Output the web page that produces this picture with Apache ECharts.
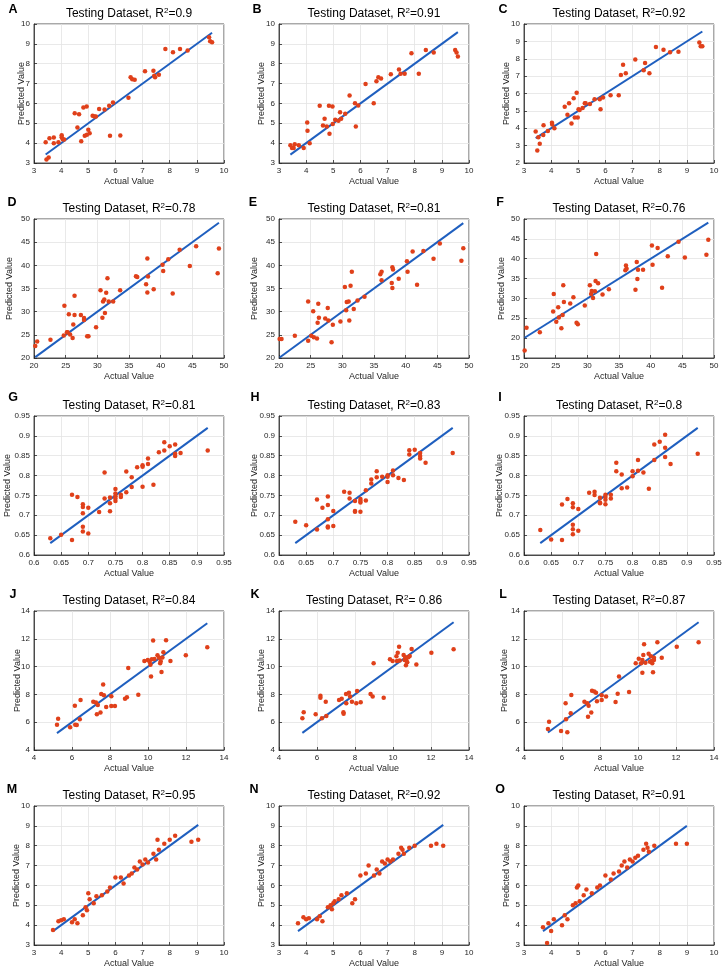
<!DOCTYPE html>
<html><head><meta charset="utf-8">
<script src="https://cdn.jsdelivr.net/npm/echarts@6/dist/echarts.min.js"></script>
<style>html,body{margin:0;padding:0;background:#fff}#c{width:725px;height:972px}</style>
</head><body><div id="c"></div>
<script>
// ---------- DATA ----------
const letters = ['A','B','C','D','E','F','G','H','I','J','K','L','M','N','O'];
const r2Values = ['0.9','0.91','0.92','0.78','0.81','0.76','0.81','0.83','0.8','0.84',' 0.86','0.87','0.95','0.92','0.91'];

const pointsA = [[3.43,4.04],[3.46,3.17],[3.54,3.28],[3.57,4.25],[3.73,4.29],[3.73,4.0],[3.9,4.04],[4.02,4.4],[4.02,4.3],[4.06,4.2],[4.11,4.18],[4.5,5.51],[4.6,4.79],[4.66,5.46],[4.74,4.09],[4.82,5.8],[4.87,4.37],[4.94,5.85],[4.95,4.42],[5.0,4.67],[5.05,4.5],[5.16,5.38],[5.23,5.34],[5.28,5.34],[5.4,5.72],[5.6,5.7],[5.77,5.88],[5.8,4.37],[5.91,6.05],[6.18,4.39],[6.48,6.28],[6.56,7.32],[6.62,7.22],[6.71,7.19],[7.09,7.62],[7.4,7.64],[7.43,7.39],[7.46,7.32],[7.6,7.44],[7.84,8.74],[8.12,8.58],[8.38,8.74],[8.66,8.66],[9.45,9.33],[9.49,9.13],[9.56,9.08]];
const pointsB = [[3.42,3.89],[3.48,3.75],[3.54,3.75],[3.58,3.95],[3.73,3.89],[3.91,3.75],[4.04,5.04],[4.05,4.62],[4.13,4.0],[4.5,5.88],[4.62,4.89],[4.68,5.23],[4.76,4.84],[4.84,5.88],[4.86,4.47],[4.97,5.85],[4.98,4.97],[5.07,5.18],[5.19,5.13],[5.25,5.56],[5.29,5.23],[5.44,5.48],[5.6,6.4],[5.8,6.01],[5.83,4.84],[5.92,5.9],[6.19,6.98],[6.49,6.01],[6.59,7.12],[6.66,7.32],[6.76,7.25],[7.12,7.47],[7.42,7.71],[7.48,7.5],[7.63,7.5],[7.88,8.53],[8.15,7.49],[8.41,8.69],[8.7,8.56],[9.49,8.69],[9.54,8.56],[9.59,8.36]];
const pointsC = [[3.43,3.81],[3.49,2.72],[3.53,3.48],[3.58,3.11],[3.71,3.61],[3.72,4.17],[3.88,3.84],[4.03,4.31],[4.04,4.21],[4.12,4.0],[4.5,5.24],[4.6,4.78],[4.66,5.44],[4.75,4.27],[4.83,5.73],[4.87,4.62],[4.94,6.04],[4.98,4.62],[5.01,5.09],[5.05,5.05],[5.16,5.17],[5.24,5.44],[5.27,5.44],[5.43,5.4],[5.6,5.67],[5.79,5.67],[5.82,5.09],[5.91,5.77],[6.19,5.9],[6.49,5.9],[6.57,7.07],[6.65,7.65],[6.75,7.17],[7.1,7.96],[7.41,7.34],[7.46,7.75],[7.62,7.17],[7.86,8.68],[8.14,8.52],[8.38,8.37],[8.69,8.41],[9.46,8.93],[9.51,8.72],[9.57,8.72]];
const pointsD = [[20.2,22.57],[20.5,23.57],[22.6,23.93],[24.7,24.86],[24.8,31.29],[25.2,25.57],[25.3,25.57],[25.5,29.43],[25.7,25.07],[26.1,24.29],[26.2,27.21],[26.4,33.43],[26.4,29.29],[27.4,29.29],[27.9,28.64],[27.9,28.21],[28.4,24.71],[28.6,24.71],[29.8,26.64],[30.5,34.64],[30.8,28.71],[30.9,32.21],[31.1,32.64],[31.2,29.71],[31.4,34.07],[31.6,37.21],[31.8,32.21],[32.5,32.21],[33.6,34.64],[36.1,37.64],[36.3,37.5],[37.7,35.93],[37.9,41.5],[37.9,34.14],[38.0,37.57],[38.9,34.86],[40.3,40.14],[40.4,38.79],[41.2,41.29],[41.9,33.93],[43.0,43.36],[44.6,39.86],[45.6,44.14],[49.0,38.29],[49.2,43.64]];
const pointsE = [[20.1,24.1],[20.4,24.1],[22.5,24.8],[24.6,23.7],[24.6,32.2],[25.1,24.8],[25.4,30.1],[25.5,24.5],[26.0,24.2],[26.1,27.6],[26.2,31.7],[26.3,28.7],[27.3,28.5],[27.7,30.8],[27.8,28.1],[28.3,23.4],[28.5,27.2],[29.7,27.9],[30.4,35.3],[30.6,30.3],[30.7,32.1],[31.0,32.2],[31.1,28.1],[31.3,35.6],[31.5,38.6],[31.8,30.6],[32.4,32.4],[33.5,33.2],[36.0,38.1],[36.2,38.6],[36.2,36.8],[37.8,36.2],[37.9,39.6],[37.9,35.1],[38.0,39.1],[38.9,37.1],[40.2,40.9],[40.3,38.6],[41.1,43.0],[41.8,35.8],[42.8,43.1],[44.4,41.4],[45.4,44.7],[48.8,41.0],[49.1,43.7]];
const pointsF = [[20.1,16.9],[20.4,22.6],[22.5,21.5],[24.6,26.7],[24.7,31.1],[25.1,24.1],[25.4,27.8],[25.5,25.2],[25.9,22.5],[26.1,25.8],[26.2,33.3],[26.3,29.1],[27.3,28.7],[27.8,30.3],[28.3,23.9],[28.5,23.5],[29.6,28.2],[30.4,33.3],[30.6,31.1],[30.7,31.9],[30.9,30.1],[31.2,31.8],[31.3,34.4],[31.4,41.2],[31.7,33.8],[32.4,31.0],[33.4,32.3],[36.0,37.1],[36.1,38.3],[36.2,37.5],[37.6,32.2],[37.8,39.2],[37.9,34.9],[38.0,37.2],[38.8,37.2],[40.2,43.3],[40.3,38.5],[41.1,42.7],[41.8,32.7],[42.7,40.6],[44.4,44.3],[45.4,40.3],[48.8,41.0],[49.1,44.8]];
const pointsG = [[0.63,0.642],[0.65,0.651],[0.67,0.752],[0.67,0.638],[0.68,0.746],[0.69,0.728],[0.69,0.721],[0.69,0.705],[0.69,0.671],[0.69,0.659],[0.70,0.719],[0.70,0.654],[0.72,0.708],[0.73,0.808],[0.73,0.742],[0.74,0.745],[0.74,0.730],[0.74,0.710],[0.75,0.766],[0.75,0.755],[0.75,0.748],[0.75,0.742],[0.75,0.736],[0.76,0.752],[0.76,0.746],[0.77,0.810],[0.77,0.758],[0.78,0.796],[0.78,0.771],[0.79,0.821],[0.80,0.826],[0.80,0.822],[0.80,0.772],[0.81,0.843],[0.81,0.829],[0.82,0.777],[0.83,0.859],[0.84,0.884],[0.84,0.863],[0.85,0.874],[0.86,0.878],[0.86,0.855],[0.86,0.849],[0.87,0.857],[0.92,0.863]];
const pointsH = [[0.63,0.684],[0.65,0.675],[0.67,0.740],[0.67,0.664],[0.68,0.719],[0.69,0.747],[0.69,0.726],[0.69,0.690],[0.69,0.672],[0.69,0.669],[0.70,0.711],[0.70,0.673],[0.72,0.759],[0.73,0.757],[0.73,0.742],[0.74,0.736],[0.74,0.711],[0.74,0.709],[0.75,0.741],[0.75,0.736],[0.75,0.732],[0.75,0.709],[0.76,0.763],[0.76,0.737],[0.77,0.790],[0.77,0.780],[0.78,0.811],[0.78,0.796],[0.79,0.797],[0.80,0.801],[0.80,0.797],[0.80,0.784],[0.81,0.813],[0.81,0.801],[0.82,0.794],[0.83,0.789],[0.84,0.864],[0.84,0.853],[0.85,0.865],[0.86,0.857],[0.86,0.849],[0.86,0.843],[0.87,0.832],[0.92,0.857]];
const pointsI = [[0.63,0.663],[0.65,0.639],[0.67,0.727],[0.67,0.638],[0.68,0.741],[0.69,0.730],[0.69,0.720],[0.69,0.676],[0.69,0.665],[0.69,0.652],[0.70,0.716],[0.70,0.661],[0.72,0.757],[0.73,0.759],[0.73,0.751],[0.74,0.744],[0.74,0.732],[0.74,0.730],[0.75,0.752],[0.75,0.746],[0.75,0.739],[0.75,0.728],[0.76,0.752],[0.76,0.742],[0.77,0.832],[0.77,0.811],[0.78,0.803],[0.78,0.768],[0.79,0.770],[0.80,0.811],[0.80,0.798],[0.81,0.839],[0.81,0.812],[0.82,0.808],[0.83,0.767],[0.84,0.878],[0.84,0.839],[0.85,0.885],[0.86,0.903],[0.86,0.870],[0.86,0.847],[0.87,0.829],[0.92,0.855]];
const pointsJ = [[5.21,5.82],[5.27,6.25],[5.9,5.63],[6.15,7.19],[6.17,5.82],[6.25,5.8],[6.41,6.21],[6.45,7.6],[7.12,7.48],[7.26,7.41],[7.31,6.57],[7.36,7.24],[7.5,6.69],[7.54,8.03],[7.64,8.72],[7.68,7.93],[7.8,7.09],[8.07,7.86],[8.07,7.17],[8.26,7.17],[8.79,7.69],[8.89,7.79],[8.96,9.9],[9.49,7.98],[9.81,10.4],[9.99,10.47],[10.09,10.33],[10.13,10.14],[10.16,9.28],[10.2,10.52],[10.27,11.87],[10.34,10.55],[10.5,10.81],[10.58,10.64],[10.64,10.24],[10.67,10.38],[10.71,9.61],[10.76,10.66],[10.81,11.03],[10.95,11.89],[11.18,10.4],[11.99,10.81],[13.12,11.39]];
const pointsK = [[5.23,6.28],[5.3,6.71],[5.93,6.57],[6.18,7.91],[6.18,7.76],[6.26,6.28],[6.46,7.48],[6.49,6.45],[7.16,7.6],[7.3,7.69],[7.39,6.71],[7.4,6.61],[7.53,8.03],[7.54,7.36],[7.68,8.12],[7.74,7.84],[7.84,7.48],[8.07,7.36],[8.11,8.24],[8.3,7.43],[8.82,8.03],[8.93,7.84],[8.98,10.24],[9.51,7.76],[9.84,10.52],[9.98,10.4],[10.18,10.74],[10.21,10.4],[10.25,11.0],[10.32,11.43],[10.35,10.43],[10.56,10.83],[10.61,10.47],[10.65,10.67],[10.68,10.09],[10.7,10.43],[10.75,10.31],[10.81,10.67],[10.88,10.76],[10.98,11.27],[11.23,10.16],[12.02,11.0],[13.19,11.24]];
const pointsL = [[5.26,5.51],[5.32,6.04],[5.95,5.37],[6.19,7.36],[6.21,6.21],[6.28,5.27],[6.46,6.64],[6.49,7.96],[7.18,7.48],[7.33,7.36],[7.37,6.4],[7.4,7.19],[7.54,6.69],[7.58,8.27],[7.7,8.2],[7.79,8.12],[7.84,7.5],[8.09,7.93],[8.09,7.6],[8.32,7.84],[8.82,7.45],[8.93,8.05],[9.0,9.28],[9.53,8.17],[9.88,10.24],[10.04,10.57],[10.16,10.24],[10.23,10.47],[10.23,9.56],[10.28,10.83],[10.32,11.6],[10.39,10.28],[10.56,10.93],[10.63,10.35],[10.68,10.74],[10.72,10.4],[10.75,10.24],[10.79,9.59],[10.84,10.64],[10.84,10.47],[11.02,11.75],[11.25,10.64],[12.04,11.43],[13.19,11.75]];
const pointsM = [[3.7,3.75],[3.9,4.2],[4.0,4.25],[4.1,4.3],[4.4,4.15],[4.5,4.3],[4.6,4.1],[4.8,4.5],[4.9,4.9],[4.95,4.75],[5.0,5.6],[5.05,5.3],[5.2,5.1],[5.3,5.45],[5.5,5.5],[5.7,5.7],[5.8,5.9],[6.0,6.4],[6.2,6.4],[6.3,6.1],[6.5,6.5],[6.6,6.6],[6.7,6.9],[6.8,6.8],[6.9,7.2],[7.0,7.05],[7.1,7.3],[7.2,7.15],[7.4,7.6],[7.5,7.3],[7.55,8.3],[7.6,7.8],[7.8,8.1],[8.0,8.3],[8.2,8.5],[8.8,8.2],[9.05,8.3]];
const pointsN = [[3.7,4.1],[3.9,4.4],[4.0,4.3],[4.1,4.35],[4.4,4.3],[4.5,4.45],[4.6,4.2],[4.8,4.9],[4.9,5.0],[4.95,4.8],[5.0,5.1],[5.05,5.2],[5.2,5.3],[5.3,5.5],[5.5,5.6],[5.7,5.1],[5.8,5.3],[6.0,6.5],[6.2,6.6],[6.3,7.0],[6.5,6.5],[6.6,6.8],[6.7,6.6],[6.8,7.2],[6.9,7.1],[7.0,7.3],[7.1,7.2],[7.2,7.3],[7.4,7.6],[7.5,7.9],[7.55,7.8],[7.6,7.6],[7.8,7.9],[8.0,8.0],[8.6,8.0],[8.8,8.1],[9.05,8.0]];
const pointsO = [[3.7,3.9],[3.85,3.1],[3.9,4.1],[4.0,3.7],[4.1,4.3],[4.4,4.0],[4.5,4.5],[4.6,4.3],[4.8,5.0],[4.9,5.1],[4.95,5.9],[5.0,6.0],[5.05,5.2],[5.2,5.5],[5.3,5.8],[5.5,5.6],[5.7,5.9],[5.8,6.0],[6.0,6.5],[6.2,6.3],[6.3,6.6],[6.5,6.7],[6.6,7.0],[6.7,7.2],[6.8,6.9],[6.9,7.3],[7.0,7.2],[7.1,7.4],[7.2,7.5],[7.4,7.8],[7.5,8.1],[7.55,7.9],[7.6,7.7],[7.8,8.0],[8.6,8.1],[9.0,8.1]];

// axis ranges per panel: [min, max, interval]
const xAxisRanges = [[3,10,1],[3,10,1],[3,10,1],[20,50,5],[20,50,5],[20,50,5],[0.6,0.95,0.05],[0.6,0.95,0.05],[0.6,0.95,0.05],[4,14,2],[4,14,2],[4,14,2],[3,10,1],[3,10,1],[3,10,1]];
const yAxisRanges = [[3,10,1],[3,10,1],[2,10,1],[20,50,5],[20,50,5],[15,50,5],[0.6,0.95,0.05],[0.6,0.95,0.05],[0.6,0.95,0.05],[4,14,2],[4,14,2],[4,14,2],[3,10,1],[3,10,1],[3,10,1]];

const allPoints = [pointsA,pointsB,pointsC,pointsD,pointsE,pointsF,pointsG,pointsH,pointsI,pointsJ,pointsK,pointsL,pointsM,pointsN,pointsO];

// ---------- LAYOUT ----------
const colLeft = [34, 279, 524];
const rowTop = [24, 219, 416, 611, 806];
const plotW = 190, plotH = 139;
const yNameX = [22,262,507, 10,255,502, 8,255,500, 18,262,505, 17,262,507];
const letterPos = [[13,10],[257,10],[503,10],[12,203],[253,203],[500,203],[13,398],[255,398],[500,398],[13,595],[255,595],[503,595],[12,790],[254,790],[500,790]];

const FONT = 'Liberation Sans, Arial, sans-serif';
const chart = echarts.init(document.getElementById('c'), null, {renderer:'canvas'});

const grids=[], xAxes=[], yAxes=[], series=[], graphics=[];
function fmt(v){ return String(+(+v).toFixed(2)); }

allPoints.forEach((pts, i) => {
  const r = Math.floor(i/3), c = i%3;
  const left = colLeft[c], top = rowTop[r];
  grids.push({left, top, width: plotW, height: plotH, show: true, borderColor: '#262626', borderWidth: 0.8, backgroundColor: '#fff'});
  const xr = xAxisRanges[i], yr = yAxisRanges[i];
  const axisCommon = {
    axisLine: {show: true, onZero: false, lineStyle: {color: '#262626', width: 0.8}},
    axisTick: {show: true, inside: true, length: 3, lineStyle: {color: '#262626', width: 0.8}},
    splitLine: {show: true, lineStyle: {color: '#e3e3e3', width: 0.8}},
    axisLabel: {color: '#262626', fontSize: 8, fontFamily: FONT, formatter: fmt, margin: 4, showMinLabel: true, showMaxLabel: true}
  };
  xAxes.push(Object.assign({type: 'value', gridIndex: i, min: xr[0], max: xr[1], interval: xr[2]}, axisCommon));
  yAxes.push(Object.assign({type: 'value', gridIndex: i, min: yr[0], max: yr[1], interval: yr[2]}, axisCommon));

  const xs = pts.map(p => p[0]);
  const mn = Math.min(...xs), mx = Math.max(...xs);
  series.push({type: 'line', xAxisIndex: i, yAxisIndex: i, data: [[mn, mn],[mx, mx]], symbol: 'none', lineStyle: {color: '#1f5fbf', width: 2}, z: 2, silent: true, animation: false});
  series.push({type: 'scatter', xAxisIndex: i, yAxisIndex: i, data: pts, symbolSize: 4.5, itemStyle: {color: '#e0401a', opacity: 1}, z: 3, animation: false});

  graphics.push({type: 'text', x: left + plotW/2, y: top - 10, style: {
    text: '{a|Testing Dataset, R}{b|2}{a|=' + r2Values[i] + '}',
    align: 'center', verticalAlign: 'middle',
    rich: {a: {fontSize: 12, fontFamily: FONT, fill: '#000', lineHeight: 15},
           b: {fontSize: 8, fontFamily: FONT, fill: '#000', lineHeight: 9, verticalAlign: 'top'}}
  }});
  graphics.push({type: 'text', x: letterPos[i][0], y: letterPos[i][1], style: {text: letters[i], fontSize: 12.5, fontWeight: 'bold', fontFamily: FONT, fill: '#000', align: 'center', verticalAlign: 'middle'}});
  graphics.push({type: 'text', x: left + plotW/2, y: top + plotH + 19, style: {text: 'Actual Value', fontSize: 9, fontFamily: FONT, fill: '#262626', align: 'center', verticalAlign: 'middle'}});
  graphics.push({type: 'text', x: yNameX[i], y: top + plotH/2, rotation: Math.PI/2, style: {text: 'Predicted Value', fontSize: 9, fontFamily: FONT, fill: '#262626', align: 'center', verticalAlign: 'middle'}});
});

chart.setOption({
  animation: false,
  backgroundColor: '#fff',
  grid: grids, xAxis: xAxes, yAxis: yAxes, series, graphic: graphics
});
</script></body></html>
